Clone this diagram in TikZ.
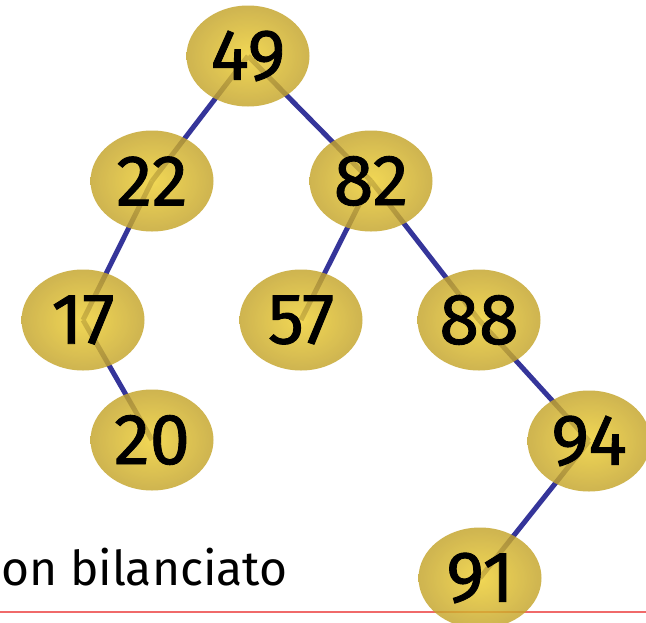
\documentclass[tikz,border=0pt]{standalone}
\usepackage{fontspec}
\setmainfont{Fira Sans}
\newfontfamily\digitfont[FakeBold=1.2]{Fira Sans}
\usetikzlibrary{shapes.geometric}
\definecolor{edgeblue}{HTML}{35359A}
\definecolor{goldout}{HTML}{C4A42A}
\definecolor{goldin}{HTML}{EFCF30}
\definecolor{redline}{HTML}{F06A6A}
\tikzset{
  treenode/.style={ellipse, minimum width=123pt, minimum height=101pt, inner sep=0pt,
    inner color=goldin, outer color=goldout, fill opacity=0.82, text opacity=1,
    font=\digitfont\fontsize{72}{72}\selectfont, text=black},
  treeedge/.style={draw=edgeblue, line width=5pt},
}
\begin{document}
\begin{tikzpicture}[x=1pt,y=-1pt]
\useasboundingbox (0,0) rectangle (646,622);
\fill[white] (0,0) rectangle (646,622);
\coordinate (c49) at (248,56);
\coordinate (c22) at (152,181);
\coordinate (c82) at (371,181);
\coordinate (c17) at (83,320);
\coordinate (c57) at (301,320);
\coordinate (c88) at (479,320);
\coordinate (c20) at (152,440);
\coordinate (c94) at (589,441);
\coordinate (c91) at (480,578);
\draw[treeedge] (c49) -- (c22);
\draw[treeedge] (c49) -- (c82);
\draw[treeedge] (c22) -- (c17);
\draw[treeedge] (c17) -- (c20);
\draw[treeedge] (c82) -- (c57);
\draw[treeedge] (c82) -- (c88);
\draw[treeedge] (c88) -- (c94);
\draw[treeedge] (c94) -- (c91);
\coordinate (la) at (0,612);
\coordinate (lb) at (646,612);
\draw[redline, line width=1.2pt] (la) -- (lb);
\node[treenode] (n49) at (c49) {49};
\node[treenode] (n22) at (c22) {22};
\node[treenode] (n82) at (c82) {82};
\node[treenode] (n17) at (c17) {17};
\node[treenode] (n57) at (c57) {57};
\node[treenode] (n88) at (c88) {88};
\node[treenode] (n20) at (c20) {20};
\node[treenode] (n94) at (c94) {94};
\node[treenode] (n91) at (c91) {91};
\node[anchor=base west, inner sep=0pt, font=\fontsize{48}{48}\selectfont] (cap) at (1,585) {on bilanciato};
\end{tikzpicture}
\end{document}
